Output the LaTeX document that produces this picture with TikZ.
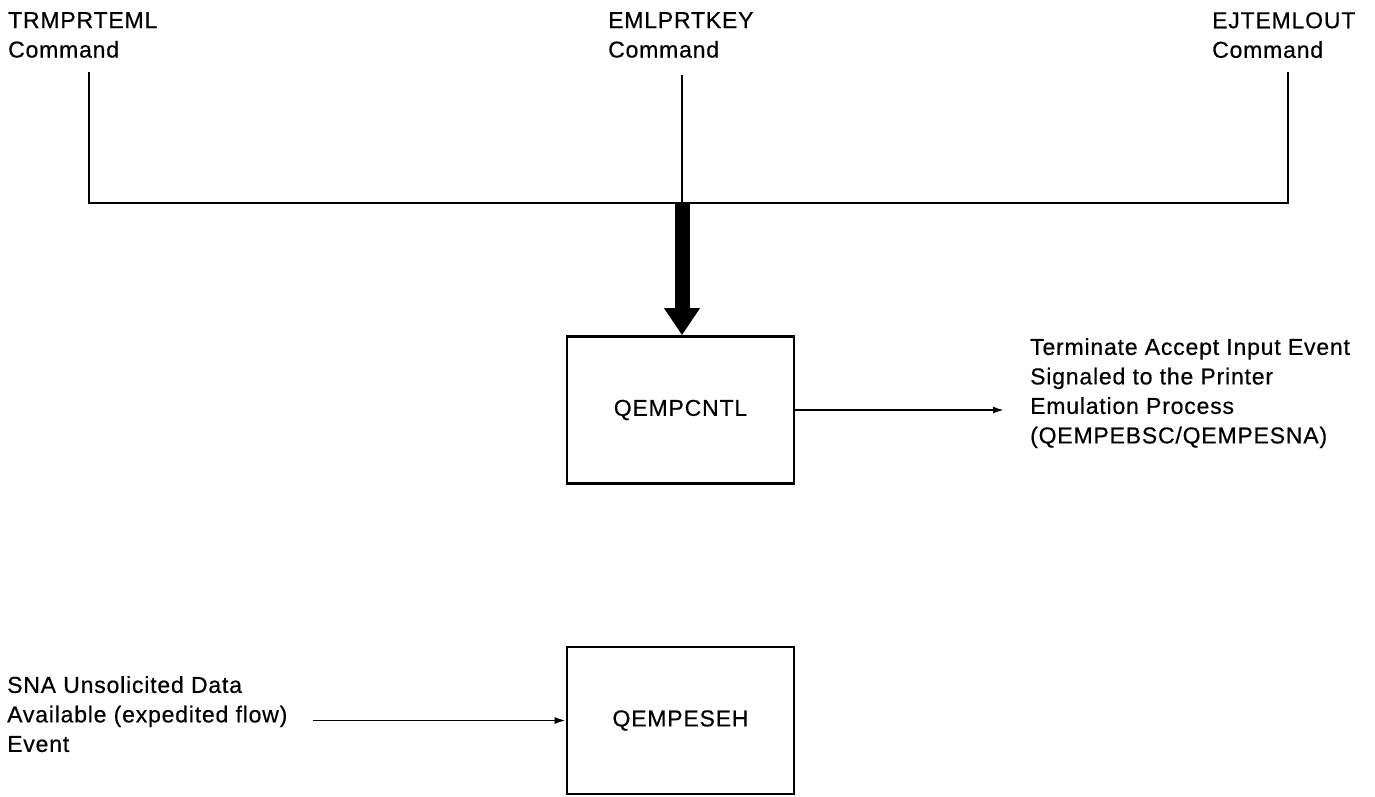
\documentclass[tikz,border=0pt]{standalone}
\usepackage{fontspec}
\setmainfont{Liberation Sans}[LetterSpace=3.5, FakeBold=0.5]
\usetikzlibrary{arrows.meta,positioning}
\tikzset{
  lbl/.style={font=\fontsize{23pt}{29.5pt}\selectfont, align=left, inner sep=0pt},
  modbox/.style={draw, line width=2.6pt, minimum width=227pt, minimum height=147pt,
    font=\fontsize{23pt}{26pt}\selectfont},
  feed/.style={line width=1.8pt},
  flow/.style={line width=1.8pt, -{Latex[length=11pt,width=7pt]}},
}
\begin{document}
\begin{tikzpicture}[x=1pt,y=-1pt]
    \useasboundingbox (0,0) rectangle (1375,796);

    % Comandos
    \node[lbl, anchor=north west] (trm) at (8,12) {TRMPRTEML\\Command};
    \node[lbl, anchor=north west] (emk) at (608,12) {EMLPRTKEY\\Command};
    \node[lbl, anchor=north west] (ejt) at (1212,12) {EJTEMLOUT\\Command};
    \coordinate (trmdrop) at (89,72);
    \coordinate (emkdrop) at (682,75);
    \coordinate (ejtdrop) at (1288,72);
    \coordinate (bus) at (682,203);

    % Bus
    \draw[feed] (trmdrop) -- (trmdrop |- bus) -- (ejtdrop |- bus) -- (ejtdrop);
    \draw[feed] (emkdrop) -- (bus);

    % Modulos
    \node[modbox] (cntl) at (680.5,410) {QEMPCNTL};
    \node[modbox] (eseh) at (680.5,720.5) {QEMPESEH};

    % Flecha gruesa
    \draw[line width=15pt, -{Triangle[length=27pt,width=34pt]}] (bus) -- (bus |- cntl.north);

    % Eventos
    \node[lbl, anchor=north west] (sig) at (1030,338)
        {Terminate Accept Input Event\\Signaled to the Printer\\Emulation Process\\(QEMPEBSC/QEMPESNA)};
    \draw[flow] (cntl.east) -- ([xshift=-26pt]sig.west |- cntl.east);

    \node[lbl, anchor=north west] (ev) at (7,676)
        {SNA Unsolicited Data\\Available (expedited flow)\\Event};
    \draw[flow] ([xshift=25pt]ev.east |- eseh.west) -- (eseh.west);
\end{tikzpicture}
\end{document}
